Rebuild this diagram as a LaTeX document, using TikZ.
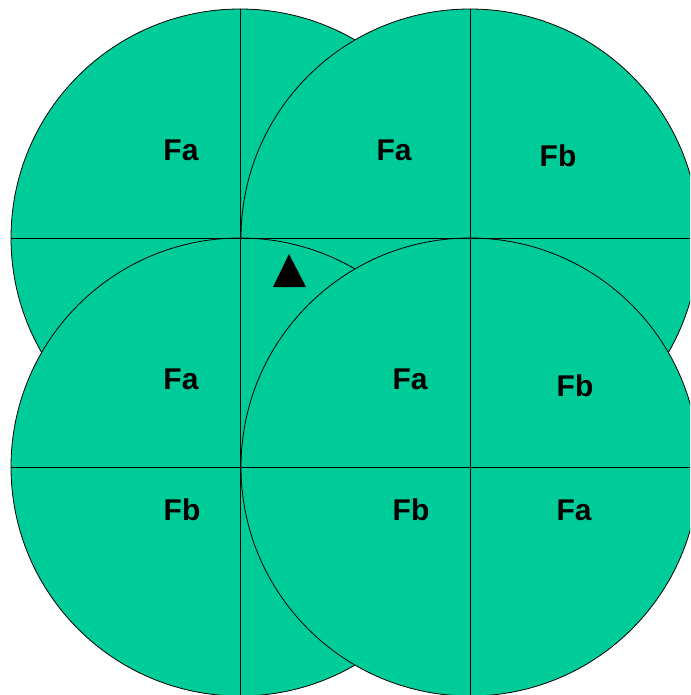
\documentclass[tikz,border=0pt]{standalone}
\usepackage{fontspec}
\setmainfont{Liberation Sans}
\definecolor{cellgreen}{HTML}{00CC99}

\begin{document}
\begin{tikzpicture}[
                    x=1pt, y=-1pt,
                    cell/.style={fill=cellgreen, draw=black, line width=0.8pt},
                    grid/.style={draw=black, line width=0.8pt},
                    tag/.style={font=\fontsize{30}{30}\selectfont\bfseries, inner sep=0pt}
                ]
                    \useasboundingbox (0,0) rectangle (690,695);
                    \clip (0,0) rectangle (690,695);

                    % four overlapping circles
                    \foreach \cx/\cy in {240/238, 470/238, 240/467, 470/467}
                        \draw[cell] (\cx,\cy) circle[radius=229];

                    % dividing lines
                    \draw[grid] (240,9) -- (240,695);
                    \draw[grid] (470,9) -- (470,695);
                    \draw[grid] (11,238) -- (690,238);
                    \draw[grid] (11,467) -- (690,467);

                    % marker
                    \fill[black] (289,254) -- (306,287) -- (273,287) -- cycle;

                    % labels
                    \node[tag] (faA) at (181,150) {Fa};
                    \node[tag] (faB) at (394,150) {Fa};
                    \node[tag] (fbA) at (558,156) {Fb};
                    \node[tag] (faC) at (181,379) {Fa};
                    \node[tag] (faD) at (410,379) {Fa};
                    \node[tag] (fbB) at (575,386) {Fb};
                    \node[tag] (fbC) at (182,510) {Fb};
                    \node[tag] (fbD) at (411,510) {Fb};
                    \node[tag] (faE) at (574,510) {Fa};

                \end{tikzpicture}
\end{document}
